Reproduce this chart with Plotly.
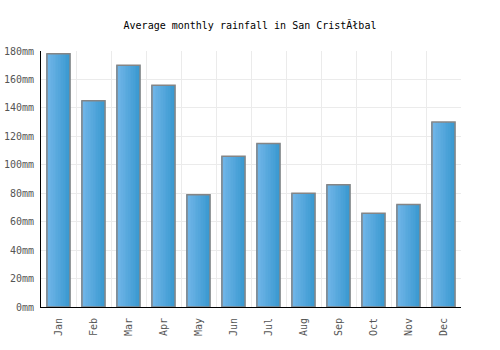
import plotly.graph_objects as go

months = ["Jan", "Feb", "Mar", "Apr", "May", "Jun", "Jul", "Aug", "Sep", "Oct", "Nov", "Dec"]
rainfall_mm = [178, 145, 170, 156, 79, 106, 115, 80, 86, 66, 72, 130]
y_ticks = [0, 20, 40, 60, 80, 100, 120, 140, 160, 180]
y_tick_labels = ["%dmm" % v for v in y_ticks]

BAR_W = 0.66
N = 14
c_left = (0x72, 0xb6, 0xe9)
c_right = (0x3a, 0x99, 0xd0)

fig = go.Figure()
for i in range(N):
    t = i / (N - 1)
    col = "rgb(%d,%d,%d)" % tuple(round(a + (b - a) * t) for a, b in zip(c_left, c_right))
    fig.add_trace(go.Bar(
        x=months, y=rainfall_mm,
        width=BAR_W / N + 0.005, offset=-BAR_W / 2 + i * BAR_W / N,
        marker=dict(color=col, line=dict(width=0)),
        hoverinfo="skip", showlegend=False,
    ))
fig.add_trace(go.Bar(
    x=months, y=rainfall_mm, width=BAR_W, offset=-BAR_W / 2,
    marker=dict(color="rgba(0,0,0,0)", line=dict(color="#858585", width=1.5)),
    showlegend=False,
))

fig.update_layout(
    barmode="overlay",
    width=500, height=350,
    margin=dict(l=41, r=39, t=51, b=43),
    paper_bgcolor="white", plot_bgcolor="white",
    font=dict(family="DejaVu Sans Mono", size=10, color="#555555"),
    title=dict(text="Average monthly rainfall in San CristĂłbal", x=0.5, xanchor="center",
               y=1 - 25 / 350, yanchor="middle",
               font=dict(family="DejaVu Sans Mono", size=10, color="#000000")),
    xaxis=dict(
        type="category", categoryorder="array", categoryarray=months,
        tickson="boundaries", showgrid=True, gridcolor="#ebebeb", gridwidth=1,
        showline=True, linecolor="#000000", linewidth=1,
        ticks="", tickangle=-90, ticklabelstandoff=6, automargin=False,
        range=[-0.5, 11.5],
    ),
    yaxis=dict(
        range=[0, 180], tickmode="array", tickvals=y_ticks, ticktext=y_tick_labels,
        showgrid=True, gridcolor="#ebebeb", gridwidth=1,
        showline=True, linecolor="#000000", linewidth=1,
        ticks="", ticklabelstandoff=4, zeroline=False, automargin=False,
    ),
)

fig.write_html("out.html")
